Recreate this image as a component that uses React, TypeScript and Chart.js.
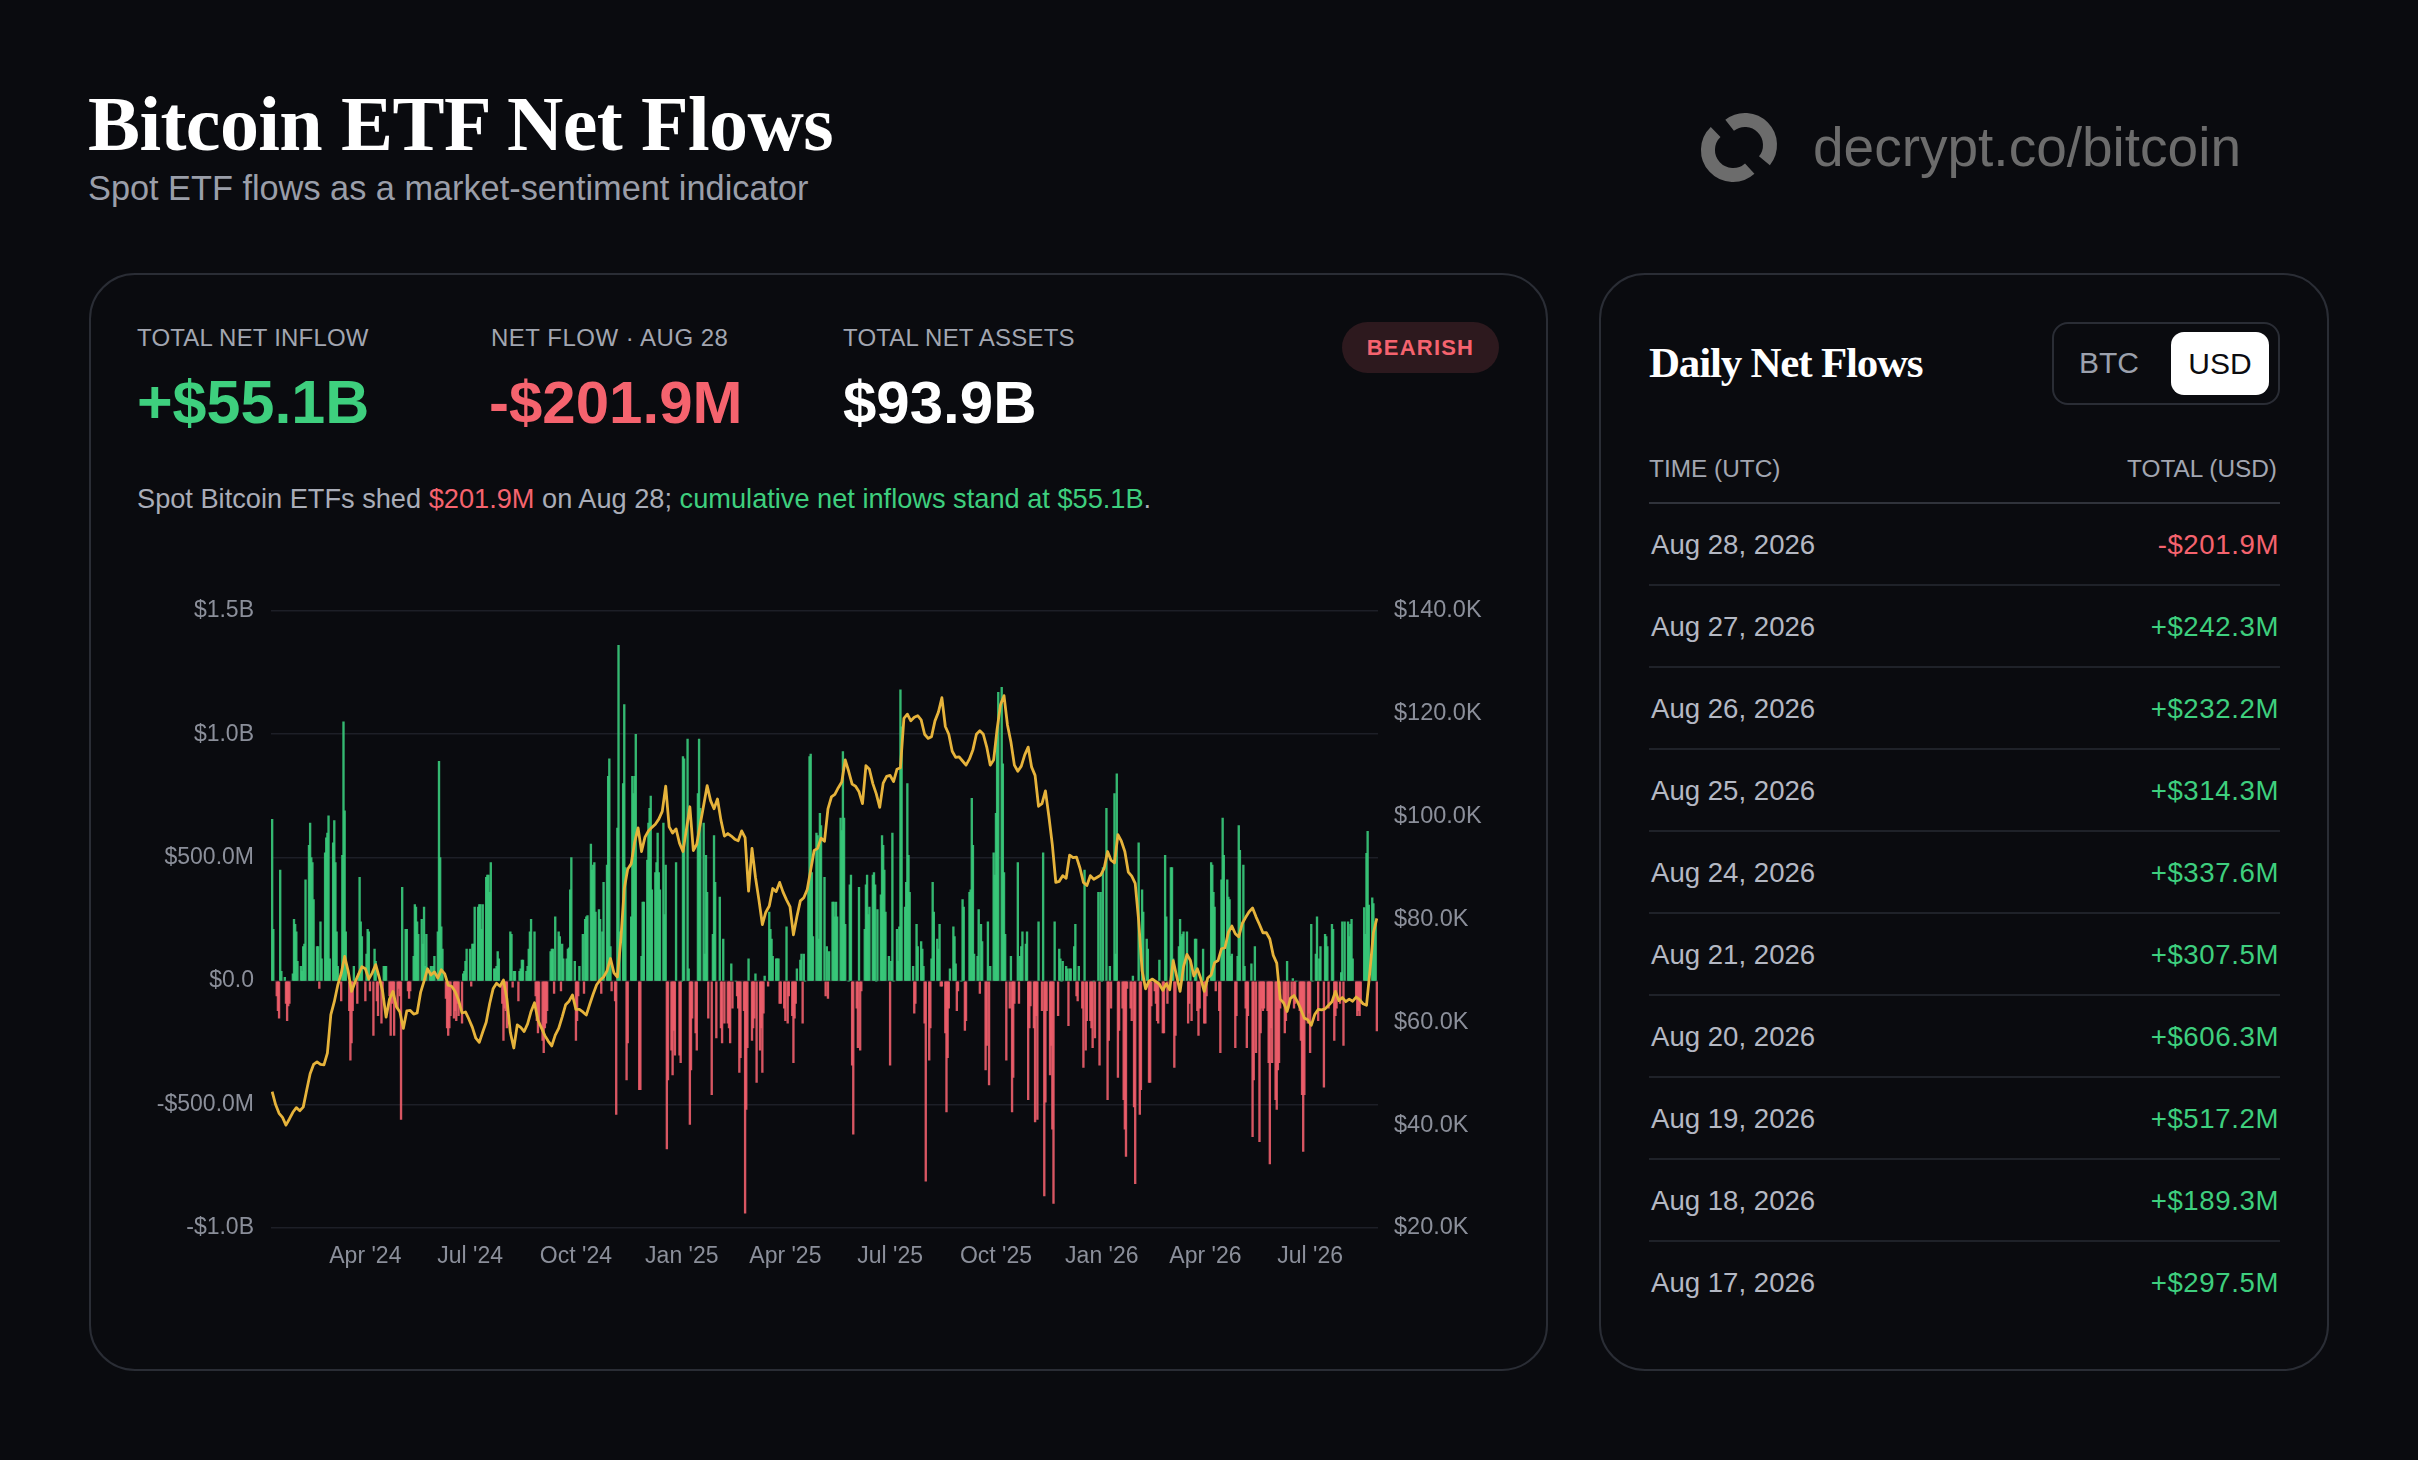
import React, { useEffect, useRef } from "react";
import Chart from "chart.js/auto";

// ---------- DATA ----------
// Daily net flows in $M, one value per weekday.
// flows2024 starts 2024-01-11, flows2025 starts 2025-01-01, flows2026 starts 2026-01-01 (ends 2026-08-28)
const flows2024 = [
  655, 210,
  -60, -120, -150, 450, 40,
  15, -90, -160, -100, -90,
  30, 250, 230, 200, 80,
  60, 40, 140, 150, 410,
  550, 640, 500, 480, 330,
  140, 140, -30, 240, 90,
  520, 580, 600, 670, 90,
  560, 650, 480, 200, 60,
  -80, 510, 1050, 690, 200,
  -120, -320, -250, -120, 60,
  -90, 30, 420, 240, 180,
  -80, 110, 210, 200, -40,
  -220, 130, 80, -80, -140,
  -170, -40, 60, 60, 60,
  -60, -220, -90, -60, -220,
  -110, -30, -60, -560, 380,
  210, 210, -40, -70, -40,
  100, 310, 300, 240, 190,
  250, 150, 300, 60, 190,
  40, 60, 20, 60, 100,
  200, 890, 500, 220, 130,
  -70, -190, -220, -190, -140,
  -150, -120, -160, -90, -140,
  -170, 30, 40, 80, 130,
  130, -20, 150, 150, 300,
  300, 310, 310, 210, 310,
  420, 430, 430, 360, 480,
  50, 50, 60, 120, 90,
  -90, -240, -110, -120, -190,
  200, 190, -25, 40, 40,
  -80, 40, 50, 85, 85,
  40, 60, 130, 200, 250,
  200, -60, -160, -210, -180,
  -240, -290, -190, -170, -120,
  120, 130, 130, -50, 260,
  200, 180, -40, 150, 90,
  90, 130, 135, 370, 500,
  80, -240, -160, -60, 60,
  190, -50, 250, 260, 265,
  555, 450, 470, 480, 280,
  290, 250, -50, 200, 400,
  470, 830, 900, 140, -40,
  -80, -540, 620, 1360, 200,
  800, 1120, 460, -400, -250,
  260, 830, 760, 830, 1000,
  -440, -440, 100, 320, 320,
  490, 640, 700, 750, 370,
  440, 480, 600, 440, 370,
  640, 270, 470, -680, -400,
  -280, -380, -200, -300, 480,
  -300, -330,
];

const flows2025 = [
  0, 910, 900,
  980, 50, -580, -360, -150,
  -210, -280, 760, 980, 700,
  640, 110, 510, 360, -150,
  -460, 190, 590, 400, -230,
  340, -190, -250, 170, -170,
  -170, -190, -250, 70, -110,
  0, -60, -110, -370, -310,
  -120, -940, -520, -270, 90,
  -240, -190, -150, 30, -410,
  -280, -190, -370, -130, 20,
  -20, 280, 210, 170, 100,
  90, 90, 90, -90, -90,
  -110, -160, 220, -170, -60,
  -140, -330, -150, -90, 50,
  85, 110, -170, 110, 0,
  380, 910, 920, 440, 180,
  600, 590, 170, 680, 630,
  420, -60, 140, -70, 120,
  320, 320, 260, 320, 260,
  660, 610, 930, 660, 230,
  0, 390, 430, -340, -620,
  -110, -270, 380, -280, -40,
  210, 390, 430, 270, 300,
  430, 440, 390, 0, 290,
  350, 590, 550, 450, 280,
  100, -340, 80, 600, 0,
  210, 80, 220, 1180, 1030,
  300, 400, 800, 510, 360,
  60, -130, -90, 230, 140,
  160, 130, 60, -170, -810,
  -320, -190, 90, 400, 280,
  170, 130, 230, -20, -20,
  -210, -530, -310, -110, 50,
  220, 180, 70, -120, -40,
  0, 330, 300, -200, -160,
  360, 370, 740, 550, 110,
  100, 290, -50, 230, 160,
  -360, -260, 240, -420, 60,
  520, 430, 680, 990, 1170,
  1190, 880, 440, 190, -320,
  -110, 100, -530, -390, -90,
  480, -90, 100, 140, 200,
  150, 200, -480, -190, -100,
  -190, -570, -140, -560, 240,
  -120, 520, -870, -490, -120,
  -380, -260, -600, -900, 240,
  -140, 130, 90, 0, 80,
  60, 50, -180, 50, 50,
  140, 230, -60, -80, 60,
  -110, -350, 450, -280, -160,
  -160, -190, -270, 0, -230,
  360, -340, 360,
];

const flows2026 = [
  0, 460,
  700, -480, -240, 60, -110,
  760, 110, 840, -390, -200,
  -110, -480, -600, -710, -30,
  -110, -160, 20, -510, -820,
  560, -540, -440, 370, 280,
  170, 130, -410, -410, -100,
  -40, -90, -160, -170, 85,
  -210, -210, 510, 260, -90,
  460, 460, 90, -350, -220,
  140, 250, 180, 190, 200,
  200, -170, -90, 80, -160,
  170, 170, -120, -220, -110,
  130, -170, -170, -60, 0,
  480, 470, 360, 300, -40,
  -120, -290, 410, 660, 510,
  410, 340, 330, 100, 110,
  -270, -140, 100, 630, 530,
  470, 60, -110, -270, -140,
  70, -630, -400, 140, -290,
  -650, -210, -110, -120, -110,
  -120, -330, -740, -190, -330,
  -480, -520, -360, -330, -110,
  -90, -210, -160, 80, -110,
  -70, 10, -110, -90, 0,
  -120, -240, -460, -690, -460,
  -170, -130, -290, 230, 0,
  110, 260, -160, 90, 140,
  -430, 190, 180, 140, -110,
  230, 210, -240, -140, -110,
  -90, 35, 240, -260, 240,
  240, 180, 230, 250, 90,
  -70, -140, -120, -140, -90,
  297.5, 189.3, 517.2, 606.3, 307.5,
  337.6, 314.3, 232.2, 242.3, -201.9,
];

// BTC price in $K, one value every 3 days from 2024-01-11
const btcPrice = [
  46.5, 44.0, 42.3, 41.5, 40.0, 41.2, 42.5, 43.4, 42.8, 43.5,
  46.8, 50.0, 51.8, 52.3, 51.8, 51.7, 54.0, 61.5, 64.0, 67.2,
  69.5, 72.8, 70.0, 66.0, 67.8, 69.3, 70.8, 70.4, 68.4, 69.6,
  71.2, 68.8, 66.0, 61.0, 64.5, 66.0, 63.0, 62.0, 58.8, 62.2,
  62.3, 61.6, 61.8, 65.8, 68.0, 70.4, 69.2, 69.8, 68.6, 70.2,
  69.4, 67.2, 67.0, 66.0, 64.3, 61.8, 62.0, 60.6, 59.0, 56.9,
  56.1, 58.1, 60.0, 63.6, 66.5, 67.6, 67.0, 68.2, 64.5, 58.0,
  55.0, 59.5, 59.0, 58.2, 59.7, 62.1, 63.8, 60.4, 58.9, 57.4,
  56.3, 55.4, 57.5,
  58.8, 61.0, 63.4, 64.1, 65.3, 62.5, 62.5, 62.0, 61.4, 63.5,
  65.5, 67.3, 68.2, 68.8, 70.0, 72.4, 69.6, 68.8, 76.0, 86.0,
  89.8, 90.8, 95.0, 97.8, 93.2, 96.0, 97.2, 97.9, 98.5, 99.5,
  101.0, 105.9, 98.0, 96.8, 97.6, 94.8, 93.2, 97.5, 101.9, 93.4,
  94.6, 98.5, 102.2, 106.0, 103.1, 101.5, 103.4, 99.3, 96.2, 96.7,
  96.2, 95.6, 95.3, 97.2, 95.9, 85.5, 93.8, 88.2, 83.8, 79.0,
  81.4, 82.6, 86.0, 85.4, 87.2, 85.3, 83.8, 82.5, 77.0, 80.5,
  83.6, 84.2, 85.8, 89.6, 93.4, 93.8, 95.8, 95.2, 101.5, 103.8,
  104.3,
  105.6, 106.7, 111.0, 108.8, 106.3, 105.9, 104.8, 102.5, 109.9, 109.2,
  106.4, 104.4, 101.8, 106.5, 107.8, 108.0, 106.8, 109.2, 109.5, 119.1,
  119.9, 118.6, 119.3, 119.6, 118.8, 116.0, 115.2, 115.5, 118.6, 120.3,
  123.1, 117.5, 116.0, 112.7, 111.5, 111.6, 110.8, 110.0, 111.2, 113.0,
  116.0, 116.7, 116.0, 113.5, 110.0, 111.0, 117.0, 121.8, 123.5, 117.8,
  114.5, 110.0, 108.8, 109.8, 112.0, 113.5, 109.6, 108.0, 102.0, 102.5,
  105.0, 100.0, 94.5, 87.2, 87.4, 88.5, 88.0, 92.5, 92.0, 92.1,
  90.0, 87.2, 86.6, 88.5, 87.8, 88.2, 88.6, 89.9, 93.2, 91.5,
  91.0,
  96.5, 95.2, 93.2, 89.2, 88.4, 87.0, 79.8, 70.0, 66.5, 68.0,
  68.4, 67.9, 67.4, 66.2, 67.5, 66.3, 72.0, 69.0, 66.0, 70.8,
  73.2, 72.0, 69.0, 70.4, 68.5, 66.0, 68.6, 69.2, 71.6, 72.0,
  74.3, 74.5, 77.5, 78.7, 77.2, 76.6, 79.2, 80.4, 81.5, 82.2,
  80.5, 79.0, 77.4, 77.4, 76.2, 73.0, 71.5, 64.5, 63.8, 62.1,
  64.7, 65.2, 64.0, 62.5, 60.8, 60.5, 59.4, 61.5, 62.5, 62.4,
  62.6, 63.3, 64.0, 66.0, 64.2, 64.8, 64.0, 64.5, 64.1, 64.9,
  64.4, 63.6, 63.3, 70.0, 77.4, 80.2,
];
const PRICE_STEP_DAYS = 3;

const xTickDates = ["2024-04-01", "2024-07-01", "2024-10-01", "2025-01-01", "2025-04-01", "2025-07-01", "2025-10-01", "2026-01-01", "2026-04-01", "2026-07-01"];
const xTickLabels = ["Apr '24", "Jul '24", "Oct '24", "Jan '25", "Apr '25", "Jul '25", "Oct '25", "Jan '26", "Apr '26", "Jul '26"];
const flowTickValues = [-1000, -500, 0, 500, 1000, 1500];
const flowTickLabels = ["-$1.0B", "-$500.0M", "$0.0", "$500.0M", "$1.0B", "$1.5B"];
const priceTickValues = [20, 40, 60, 80, 100, 120, 140];
const priceTickLabels = ["$20.0K", "$40.0K", "$60.0K", "$80.0K", "$100.0K", "$120.0K", "$140.0K"];

const tableDates = ["Aug 28, 2026", "Aug 27, 2026", "Aug 26, 2026", "Aug 25, 2026", "Aug 24, 2026", "Aug 21, 2026", "Aug 20, 2026", "Aug 19, 2026", "Aug 18, 2026", "Aug 17, 2026"];
const tableValues = ["-$201.9M", "+$242.3M", "+$232.2M", "+$314.3M", "+$337.6M", "+$307.5M", "+$606.3M", "+$517.2M", "+$189.3M", "+$297.5M"];

// ---------- STYLE ----------
const FONT = '"Liberation Sans", Arial, Helvetica, sans-serif';
const SERIF = '"Liberation Serif", "DejaVu Serif", serif';
const BG = "#0a0b0f";
const GREEN = "#3ecf7e";
const RED = "#f5636e";
const BAR_GREEN = "rgba(56, 200, 122, 0.92)";
const BAR_RED = "rgba(238, 94, 108, 0.9)";
const GOLD = "#e6b33b";
const LABEL = "#a2a6b1";
const TICK = "#8b8f9a";
const BORDER = "#2a2d35";

const START = Date.UTC(2024, 0, 11);
const DAY = 864e5;
function dayOf(iso: string): number {
  const [y, m, d] = iso.split("-").map(Number);
  return Math.round((Date.UTC(y, m - 1, d) - START) / DAY);
}
function mapWeekdays(fromIso: string, values: number[]) {
  const [y, m, d] = fromIso.split("-").map(Number);
  let t = Date.UTC(y, m - 1, d);
  const out: { x: number; y: number }[] = [];
  let i = 0;
  while (i < values.length) {
    const wd = new Date(t).getUTCDay();
    if (wd !== 0 && wd !== 6) {
      out.push({ x: Math.round((t - START) / DAY), y: values[i] });
      i++;
    }
    t += DAY;
  }
  return out;
}

function T(props: any) {
  const { x, b, size, color, weight = 400, family = FONT, ls = 0, align = "left", w = 500, children } = props;
  const asc = family === SERIF ? 0.8375 : 0.8465;
  const style: any = {
    position: "absolute",
    top: b - asc * size,
    fontSize: size,
    lineHeight: `${size}px`,
    color,
    fontWeight: weight,
    fontFamily: family,
    letterSpacing: ls,
    whiteSpace: "nowrap",
  };
  if (align === "right") {
    style.left = x - w;
    style.width = w;
    style.textAlign = "right";
  } else {
    style.left = x;
  }
  return <div style={style}>{children}</div>;
}

function FlowChart() {
  const ref = useRef<HTMLCanvasElement>(null);
  useEffect(() => {
    const bars = [
      ...mapWeekdays("2024-01-11", flows2024),
      ...mapWeekdays("2025-01-01", flows2025),
      ...mapWeekdays("2026-01-01", flows2026),
    ];
    const price = btcPrice.map((p, i) => ({ x: i * PRICE_STEP_DAYS, y: p }));
    const tickFont = { family: FONT, size: 23 };
    const chart = new Chart(ref.current as HTMLCanvasElement, {
      type: "bar",
      data: {
        datasets: [
          {
            type: "line",
            data: price,
            yAxisID: "yPrice",
            xAxisID: "x",
            borderColor: GOLD,
            borderWidth: 2.8,
            pointRadius: 0,
            tension: 0,
            borderJoinStyle: "round",
            order: 0,
          } as any,
          {
            type: "bar",
            data: bars,
            yAxisID: "yFlow",
            xAxisID: "x",
            backgroundColor: bars.map((b) => (b.y >= 0 ? BAR_GREEN : BAR_RED)),
            barThickness: 1.7,
            order: 1,
          } as any,
        ],
      },
      options: {
        responsive: false,
        animation: false,
        layout: { padding: { top: 23, left: 0, right: 0, bottom: 0 } },
        plugins: { legend: { display: false }, tooltip: { enabled: false } },
        scales: {
          x: {
            type: "linear",
            min: -1,
            max: 961,
            offset: false,
            grid: { display: false, drawTicks: false },
            border: { display: false },
            afterBuildTicks: (s: any) => {
              s.ticks = xTickDates.map((d) => ({ value: dayOf(d) }));
            },
            ticks: {
              autoSkip: false,
              maxRotation: 0,
              padding: 15,
              color: TICK,
              font: tickFont,
              callback: (_v: any, i: number) => xTickLabels[i],
            },
            afterFit: (s: any) => {
              s.height = 52;
            },
          },
          yFlow: {
            position: "left",
            min: -1000,
            max: 1500,
            afterBuildTicks: (s: any) => {
              s.ticks = flowTickValues.map((v) => ({ value: v }));
            },
            grid: { color: "#1d1f27", lineWidth: 1.5, drawTicks: false },
            border: { display: false },
            ticks: {
              padding: 17,
              color: TICK,
              font: tickFont,
              callback: (v: any) => flowTickLabels[flowTickValues.indexOf(Number(v))],
            },
            afterFit: (s: any) => {
              s.width = 121;
            },
          },
          yPrice: {
            position: "right",
            min: 20,
            max: 140,
            afterBuildTicks: (s: any) => {
              s.ticks = priceTickValues.map((v) => ({ value: v }));
            },
            grid: { display: false, drawTicks: false },
            border: { display: false },
            ticks: {
              padding: 16,
              color: TICK,
              font: { family: FONT, size: 23.5 },
              callback: (v: any) => priceTickLabels[priceTickValues.indexOf(Number(v))],
            },
            afterFit: (s: any) => {
              s.width = 162;
            },
          },
        },
      } as any,
    });
    return () => chart.destroy();
  }, []);
  return (
    <canvas
      ref={ref}
      width={1390}
      height={700}
      style={{ position: "absolute", left: 150, top: 580, width: 1390, height: 700 }}
    />
  );
}

function Logo() {
  const r = 25;
  const pt = (cx: number, cy: number, deg: number) => {
    const a = (deg * Math.PI) / 180;
    return `${(cx + r * Math.cos(a)).toFixed(2)} ${(cy + r * Math.sin(a)).toFixed(2)}`;
  };
  const arc = (cx: number, cy: number, a0: number, a1: number) =>
    `M ${pt(cx, cy, a0)} A ${r} ${r} 0 0 1 ${pt(cx, cy, a1)}`;
  return (
    <svg width={90} height={90} viewBox="0 0 90 90" style={{ position: "absolute", left: 1695, top: 104 }}>
      <path d={arc(38, 46, 48, 226)} stroke="#6c6c6c" strokeWidth={14} fill="none" />
      <path d={arc(50, 41, 232, 399)} stroke="#6c6c6c" strokeWidth={14} fill="none" />
    </svg>
  );
}

export default function App() {
  const card: any = {
    position: "absolute",
    top: 273,
    height: 1098,
    border: `2px solid ${BORDER}`,
    borderRadius: 46,
    boxSizing: "border-box",
  };
  return (
    <div
      style={{
        position: "fixed",
        left: 0,
        top: 0,
        width: 2418,
        height: 1460,
        background: BG,
        overflow: "hidden",
        fontFamily: FONT,
      }}
    >
      <T x={88} b={150} size={78} color="#ffffff" weight={700} family={SERIF} ls={-0.6}>
        Bitcoin ETF Net Flows
      </T>
      <T x={88} b={200} size={34.3} color="#9a9ea9">
        Spot ETF flows as a market-sentiment indicator
      </T>

      <Logo />
      <T x={1813} b={167} size={55} color="#6c6c6c">
        decrypt.co/bitcoin
      </T>

      {/* Left card */}
      <div style={{ ...card, left: 89, width: 1459 }} />
      <T x={137} b={346} size={24} color={LABEL} ls={0.2}>TOTAL NET INFLOW</T>
      <T x={491} b={346} size={24} color={LABEL} ls={0.5}>NET FLOW · AUG 28</T>
      <T x={843} b={346} size={24} color={LABEL} ls={0.2}>TOTAL NET ASSETS</T>
      <T x={137} b={424} size={61} color={GREEN} weight={700}>+$55.1B</T>
      <T x={489} b={424} size={60} color={RED} weight={700}>-$201.9M</T>
      <T x={843} b={424} size={60} color="#ffffff" weight={700}>$93.9B</T>
      <div
        style={{
          position: "absolute",
          left: 1342,
          top: 322,
          width: 157,
          height: 51,
          borderRadius: 26,
          background: "#2d191e",
          color: RED,
          fontFamily: FONT,
          fontWeight: 700,
          fontSize: 22,
          letterSpacing: 1.2,
          display: "flex",
          alignItems: "center",
          justifyContent: "center",
        }}
      >
        BEARISH
      </div>
      <T x={137} b={508} size={27.2} color="#a9adb8">
        Spot Bitcoin ETFs shed <span style={{ color: RED }}>$201.9M</span> on Aug 28;{" "}
        <span style={{ color: GREEN }}>cumulative net inflows stand at $55.1B</span>.
      </T>
      <FlowChart />

      {/* Right card */}
      <div style={{ ...card, left: 1599, width: 730 }} />
      <T x={1649} b={377} size={43} color="#ffffff" weight={700} family={SERIF} ls={-1.2}>
        Daily Net Flows
      </T>
      <div
        style={{
          position: "absolute",
          left: 2052,
          top: 322,
          width: 228,
          height: 83,
          border: `2px solid ${BORDER}`,
          borderRadius: 16,
          boxSizing: "border-box",
        }}
      />
      <T x={2079} b={373} size={30} color="#9ca1ad">BTC</T>
      <div
        style={{
          position: "absolute",
          left: 2171,
          top: 332,
          width: 98,
          height: 63,
          borderRadius: 13,
          background: "#ffffff",
          color: "#0b0c10",
          fontFamily: FONT,
          fontSize: 30,
          display: "flex",
          alignItems: "center",
          justifyContent: "center",
        }}
      >
        USD
      </div>
      <T x={1649} b={478} size={24.4} color={LABEL}>TIME (UTC)</T>
      <T x={2277} b={478} size={24.4} color={LABEL} align="right" w={300}>TOTAL (USD)</T>
      <div style={{ position: "absolute", left: 1649, top: 502, width: 631, height: 2, background: "#30333b" }} />
      {tableDates.map((d, i) => (
        <React.Fragment key={d}>
          <T x={1651} b={554 + 82 * i} size={27.6} color="#b4b8c3">{d}</T>
          <T
            x={2279}
            b={554 + 82 * i}
            size={27.6}
            color={tableValues[i].startsWith("-") ? RED : GREEN}
            align="right"
            w={300}
            ls={0.6}
          >
            {tableValues[i]}
          </T>
          {i < tableDates.length - 1 && (
            <div
              style={{
                position: "absolute",
                left: 1649,
                top: 584 + 82 * i,
                width: 631,
                height: 2,
                background: "#1f2229",
              }}
            />
          )}
        </React.Fragment>
      ))}
    </div>
  );
}
